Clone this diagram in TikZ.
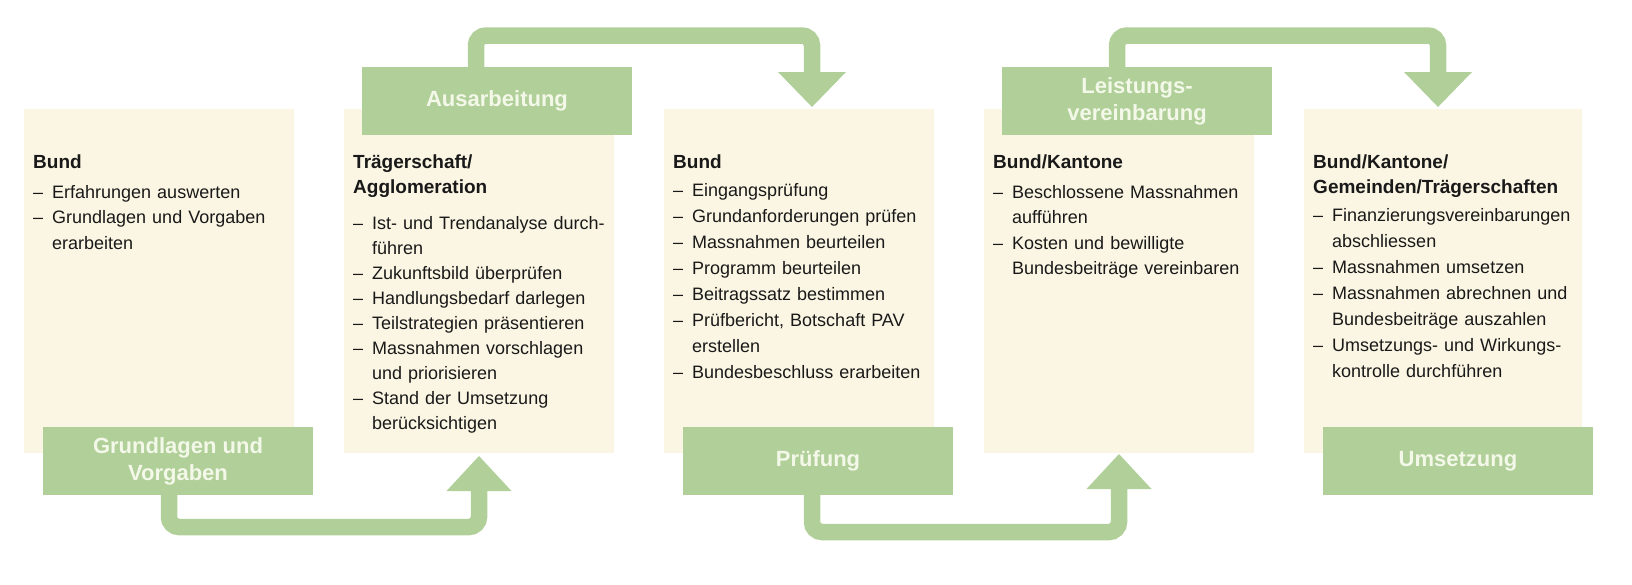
\documentclass[tikz,border=0pt]{standalone}
\usepackage{fontspec}
\setmainfont{Liberation Sans}
\usepackage{tikz}
\usetikzlibrary{positioning,calc}
\definecolor{phasegreen}{RGB}{176,207,153}
\definecolor{phasecream}{RGB}{251,246,227}
\definecolor{phaselabeltext}{RGB}{243,248,232}
\definecolor{phaseink}{RGB}{25,25,25}
\newcommand{\phasehead}[2][4pt]{{\fontsize{19}{24.5}\selectfont\bfseries #2\par}\vspace{#1}}
\newcommand{\phaseitem}[1]{\hangindent=19pt\hangafter=1\noindent\makebox[19pt][l]{–}#1\par}
\tikzset{
  phasebox/.style={rectangle, fill=phasecream, minimum width=270pt, minimum height=344pt, inner sep=0pt, outer sep=0pt},
  phaselabel/.style={rectangle, fill=phasegreen, text=phaselabeltext, font=\fontsize{22}{27}\selectfont\bfseries, align=center, minimum width=270pt, minimum height=68pt, inner sep=0pt, outer sep=0pt, anchor=north west},
  phasetext/.style={anchor=north west, text width=268pt, inner sep=0pt, align=left, text=phaseink, font=\fontsize{18}{#1}\selectfont},
  phasetext/.default=25.5pt,
  flowband/.style={draw=phasegreen, line width=16.5pt, rounded corners=10pt}
}
\begin{document}
\begin{tikzpicture}[x=1pt, y=-1pt]
\useasboundingbox (0,0) rectangle (1632,584);
% phase boxes
\node[phasebox, anchor=north west] (bundbox) at (24,109) {};
\node[phasebox, right=50pt of bundbox] (traegerbox) {};
\node[phasebox, right=50pt of traegerbox] (pruefbox) {};
\node[phasebox, right=50pt of pruefbox] (kantonbox) {};
\node[phasebox, right=50pt of kantonbox, minimum width=278pt] (umsetzbox) {};
% phase labels
\node[phaselabel] (grund) at ($(bundbox.south west)+(19,-26)$) {Grundlagen und\\Vorgaben};
\node[phaselabel] (ausarb) at ($(traegerbox.north west)+(18,-42)$) {Ausarbeitung};
\node[phaselabel] (pruef) at ($(pruefbox.south west)+(19,-26)$) {Prüfung};
\node[phaselabel] (leist) at ($(kantonbox.north west)+(18,-42)$) {Leistungs-\\vereinbarung};
\node[phaselabel] (umsetz) at ($(umsetzbox.south west)+(19,-26)$) {Umsetzung};
% box texts
\node[phasetext] (bundtxt) at ($(bundbox.north west)+(9,46)$) {\phasehead{Bund}%
  \phaseitem{Erfahrungen auswerten}%
  \phaseitem{Grundlagen und Vorgaben\newline erarbeiten}};
\node[phasetext=25pt] (traegertxt) at ($(traegerbox.north west)+(9,46)$) {\phasehead[11pt]{Trägerschaft/\newline Agglomeration}%
  \phaseitem{Ist- und Trendanalyse durch-\newline führen}%
  \phaseitem{Zukunftsbild überprüfen}%
  \phaseitem{Handlungsbedarf darlegen}%
  \phaseitem{Teilstrategien präsentieren}%
  \phaseitem{Massnahmen vorschlagen\newline und priorisieren}%
  \phaseitem{Stand der Umsetzung\newline berücksichtigen}};
\node[phasetext=26pt] (prueftxt) at ($(pruefbox.north west)+(9,46)$) {\phasehead[2pt]{Bund}%
  \phaseitem{Eingangsprüfung}%
  \phaseitem{Grundanforderungen prüfen}%
  \phaseitem{Massnahmen beurteilen}%
  \phaseitem{Programm beurteilen}%
  \phaseitem{Beitragssatz bestimmen}%
  \phaseitem{Prüfbericht, Botschaft PAV\newline erstellen}%
  \phaseitem{Bundesbeschluss erarbeiten}};
\node[phasetext] (kantontxt) at ($(kantonbox.north west)+(9,46)$) {\phasehead{Bund/Kantone}%
  \phaseitem{Beschlossene Massnahmen\newline aufführen}%
  \phaseitem{Kosten und bewilligte\newline Bundesbeiträge vereinbaren}};
\node[phasetext=26pt] (umsetztxt) at ($(umsetzbox.north west)+(9,46)$) {\phasehead[2pt]{Bund/Kantone/\newline Gemeinden/Trägerschaften}%
  \phaseitem{Finanzierungsvereinbarungen\newline abschliessen}%
  \phaseitem{Massnahmen umsetzen}%
  \phaseitem{Massnahmen abrechnen und\newline Bundesbeiträge auszahlen}%
  \phaseitem{Umsetzungs- und Wirkungs-\newline kontrolle durchführen}};
% connecting bands
\coordinate (a1s) at ($(ausarb.north west)+(114,0)$);
\coordinate (a1e) at ($(pruefbox.north west)+(148,-37)$);
\coordinate (a2s) at ($(leist.north west)+(115,0)$);
\coordinate (a2e) at ($(umsetzbox.north west)+(134,-37)$);
\coordinate (b1s) at ($(grund.south west)+(126,0)$);
\coordinate (b1e) at ($(traegerbox.south west)+(135,38)$);
\coordinate (b2s) at ($(pruef.south west)+(129,0)$);
\coordinate (b2e) at ($(kantonbox.south west)+(135,36)$);
\draw[flowband] (a1s) -- ++(0,-31.5) -| (a1e);
\draw[flowband] (a2s) -- ++(0,-31.5) -| (a2e);
\draw[flowband] (b1s) -- ++(0,32) -| (b1e);
\draw[flowband] (b2s) -- ++(0,37) -| (b2e);
\fill[phasegreen] ($(a1e)+(-34,0)$) -- ($(a1e)+(34,0)$) -- ($(a1e)+(0,35)$) -- cycle;
\fill[phasegreen] ($(a2e)+(-34,0)$) -- ($(a2e)+(34,0)$) -- ($(a2e)+(0,35)$) -- cycle;
\fill[phasegreen] ($(b1e)+(-32.5,0)$) -- ($(b1e)+(32.5,0)$) -- ($(b1e)+(0,-35)$) -- cycle;
\fill[phasegreen] ($(b2e)+(-32.5,0)$) -- ($(b2e)+(32.5,0)$) -- ($(b2e)+(0,-35)$) -- cycle;
\end{tikzpicture}
\end{document}
